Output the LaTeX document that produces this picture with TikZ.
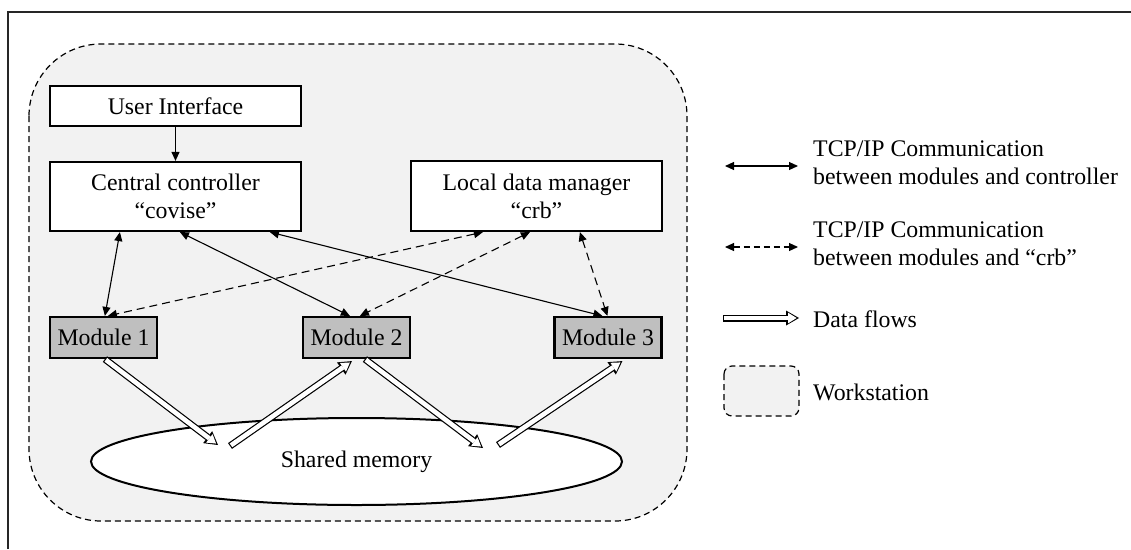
\documentclass[tikz,border=0pt]{standalone}
\usepackage{fontspec}
\setmainfont{Liberation Serif}
\usetikzlibrary{arrows.meta,shapes.geometric}
\newcommand\flowarrow[2]{%
  \draw[flowouter] #1 -- #2;
  \draw[flowinner] #1 -- #2;}
\begin{document}
\begin{tikzpicture}[x=1pt,y=-1pt,
  every node/.style={font=\fontsize{23.8}{28}\selectfont},
  box/.style={draw, line width=2.2pt, fill=white, inner sep=0pt, align=center, minimum width=251pt},
  modbox/.style={draw, line width=2.2pt, fill=gray!50, inner sep=0pt, minimum width=107pt, minimum height=41pt},
  conn/.style={line width=1.1pt, {Triangle[length=9pt,width=8pt]}-{Triangle[length=9pt,width=8pt]}},
  dconn/.style={conn, dash pattern=on 8pt off 5pt},
  wsdash/.style={line width=1.2pt, dash pattern=on 6pt off 4pt, fill=gray!10},
  flowouter/.style={draw=black, line width=7pt, -{Triangle[length=13pt,width=15pt,line width=0pt]}},
  flowinner/.style={draw=white, line width=4.6pt, shorten >=2.4pt, shorten <=1.2pt, -{Triangle[length=8.5pt,width=10.6pt,line width=0pt]}},
  legtext/.style={anchor=west, inner sep=0pt, align=left}
]
\useasboundingbox (0,0) rectangle (1131,549);
% frame
\draw[line width=1.5pt, black!85] (8,549) -- (8,12) -- (1131,12);
% workstation
\draw[wsdash, rounded corners=72pt] (29,44) rectangle (687,521);
% boxes
\node[box, minimum height=40pt] (ui) at (175.5,106) {User Interface};
\node[box, minimum height=69pt] (cc) at (175.5,196.5) {Central controller\\“covise”};
\node[box, minimum height=70pt] (ldm) at (536.5,196) {Local data manager\\“crb”};
\node[modbox] (m1) at (103.5,337.5) {Module 1};
\node[modbox] (m2) at (356.5,337.5) {Module 2};
\node[modbox] (m3) at (608,337.5) {Module 3};
% connectors
\draw[line width=1.1pt, -{Triangle[length=9pt,width=8pt]}] (ui) -- (cc);
\draw[conn] ([xshift=71pt]cc.south west) -- ([xshift=56pt]m1.north west);
\draw[conn] ([xshift=131pt]cc.south west) -- ([xshift=48pt]m2.north west);
\draw[conn] ([xshift=221pt]cc.south west) -- ([xshift=49pt]m3.north west);
\draw[dconn] ([xshift=73pt]ldm.south west) -- ([xshift=59pt]m1.north west);
\draw[dconn] ([xshift=120pt]ldm.south west) -- ([xshift=58pt]m2.north west);
\draw[dconn] ([xshift=170pt]ldm.south west) -- ([xshift=54pt]m3.north west);
% shared memory
\node[draw, ellipse, line width=2pt, fill=white, inner sep=0pt, minimum width=531pt, minimum height=87pt] (mem) at (356.5,461.5) {Shared memory};
% data flows
\coordinate (f1) at (218,445);
\coordinate (f2) at (230,446);
\coordinate (f3) at (483,448);
\coordinate (f4) at (498,445);
\flowarrow{([xshift=56pt]m1.south west)}{(f1)}
\flowarrow{(f2)}{([xshift=50pt,yshift=-2pt]m2.south west)}
\flowarrow{([xshift=63pt]m2.south west)}{(f3)}
\flowarrow{(f4)}{([xshift=69pt,yshift=-2pt]m3.south west)}
% legend
\coordinate (l1a) at (725,166); \coordinate (l1b) at (798,166);
\draw[conn] (l1a) -- (l1b);
\node[legtext] (t1) at (813,163) {TCP/IP Communication\\between modules and controller};
\coordinate (l2a) at (725,247); \coordinate (l2b) at (798,247);
\draw[dconn, dash pattern=on 6pt off 4pt] (l2a) -- (l2b);
\node[legtext] (t2) at (813,244) {TCP/IP Communication\\between modules and “crb”};
\coordinate (l3a) at (723,318); \coordinate (l3b) at (799,318);
\flowarrow{(l3a)}{(l3b)}
\node[anchor=base west, inner sep=0pt] (t3) at (813,327) {Data flows};
\draw[wsdash, rounded corners=8pt] (724,366) rectangle (799,416);
\node[anchor=base west, inner sep=0pt] (t4) at (813,400) {Workstation};
\end{tikzpicture}
\end{document}
